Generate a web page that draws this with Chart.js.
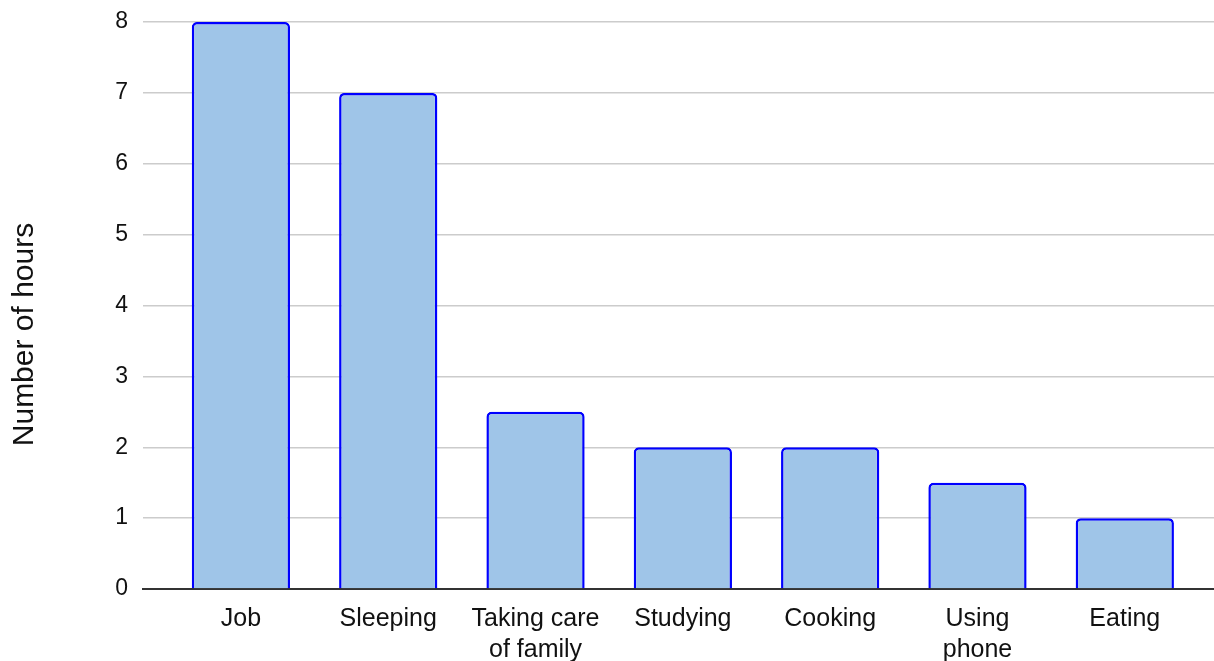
<!DOCTYPE html>
<html>
<head>
<meta charset="utf-8">
<script src="https://cdn.jsdelivr.net/npm/chart.js@4.4.1/dist/chart.umd.min.js"></script>
<style>
  html, body { margin: 0; padding: 0; background: #fff; }
  #wrap { width: 1214px; height: 661px; position: relative; }
</style>
</head>
<body>
<div id="wrap"><canvas id="hoursChart"></canvas></div>
<script>
const categories = ['Job', 'Sleeping', ['Taking care', 'of family'], 'Studying', 'Cooking', ['Using', 'phone'], 'Eating'];
const hours = [8, 7, 2.5, 2, 2, 1.5, 1];
const yTicks = [0, 1, 2, 3, 4, 5, 6, 7, 8];
const yTitle = 'Number of hours';

const FONT = '"Liberation Sans", Arial, sans-serif';

// rotated axis title, centred on the whole canvas height like the original
const sideTitle = {
    id: 'sideTitle',
    afterDraw(chart) {
        const ctx = chart.ctx;
        ctx.save();
        ctx.translate(25, chart.height / 2 + 4);
        ctx.rotate(-Math.PI / 2);
        ctx.font = '30px ' + FONT;
        ctx.fillStyle = '#111';
        ctx.textAlign = 'center';
        ctx.textBaseline = 'middle';
        ctx.fillText(yTitle, 0, 0);
        ctx.restore();
    }
};

document.addEventListener('DOMContentLoaded', () => {
    new Chart(document.getElementById('hoursChart'), {
        type: 'bar',
        data: {
            datasets: [{
                label: yTitle,
                data: hours.map((v, i) => ({ x: i, y: v })),
                backgroundColor: '#9fc5e8',
                borderColor: '#0000ff',
                borderWidth: 2.5,
                borderRadius: { topLeft: 5, topRight: 5 },
                borderSkipped: 'bottom',
                barPercentage: 0.667,
                categoryPercentage: 1
            }]
        },
        options: {
            responsive: true,
            maintainAspectRatio: false,
            animation: false,
            layout: { padding: { top: 22, right: 0, left: 0, bottom: 0 } },
            plugins: { legend: { display: false }, tooltip: { enabled: false } },
            scales: {
                x: {
                    type: 'linear',
                    offset: false,
                    min: -0.6646,
                    max: 6.6055,
                    afterBuildTicks: s => { s.ticks = categories.map((c, i) => ({ value: i })); },
                    afterFit: s => { s.height = 72; s.paddingLeft = 0; s.paddingRight = 0; },
                    grid: { display: false, drawTicks: false },
                    border: { display: true, color: '#333', width: 2 },
                    ticks: {
                        autoSkip: false,
                        maxRotation: 0,
                        padding: 14,
                        color: '#111',
                        font: { family: FONT, size: 25, lineHeight: 1.25 },
                        callback: v => categories[v]
                    }
                },
                y: {
                    min: 0,
                    max: 8,
                    afterBuildTicks: s => { s.ticks = yTicks.map(v => ({ value: v })); },
                    afterFit: s => { s.width = 143; s.paddingTop = 0; s.paddingBottom = 0; },
                    border: { display: false },
                    grid: {
                        drawTicks: false,
                        lineWidth: 1.5,
                        color: c => c.tick && c.tick.value === 0 ? 'rgba(0,0,0,0)' : '#cccccc'
                    },
                    ticks: {
                        padding: 15,
                        color: '#111',
                        font: { family: FONT, size: 23 }
                    }
                }
            }
        },
        plugins: [sideTitle]
    });
});
</script>
</body>
</html>
